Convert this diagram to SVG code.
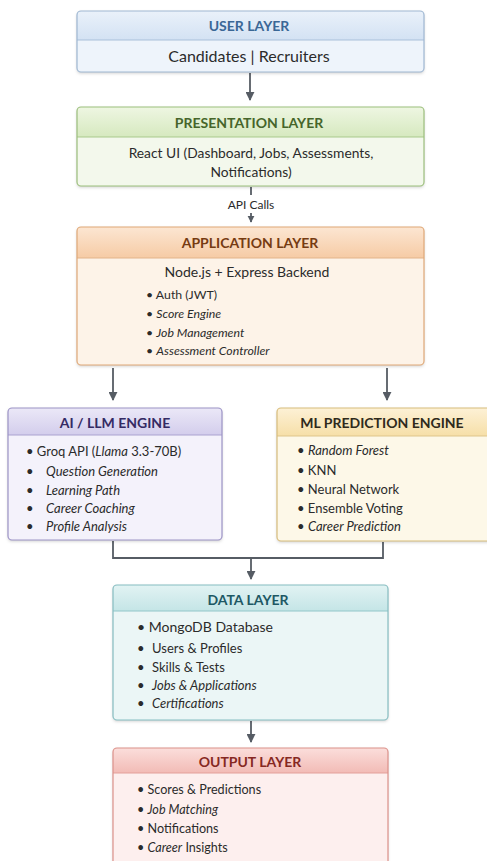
<svg xmlns="http://www.w3.org/2000/svg" width="487" height="861" viewBox="0 0 487 861">
  <style>
    text { font-family: Lato, "Open Sans", "Noto Sans", sans-serif; fill: #2b2b2b; }
    .title { font-weight: bold; font-size: 14px; text-anchor: middle; }
    .body { font-size: 13px; }
    .mid { text-anchor: middle; }
    .it { font-style: italic; }
    .conn { stroke: #565c64; stroke-width: 1.8; fill: none; }
  </style>
  <defs>
    <filter id="shadow" x="-5%" y="-5%" width="110%" height="115%">
      <feDropShadow dx="0" dy="1.5" stdDeviation="1.5" flood-color="#000" flood-opacity="0.18"/>
    </filter>
    <marker id="arrow" viewBox="0 0 10 10" refX="9" refY="5" markerWidth="5" markerHeight="5" orient="auto">
      <path d="M0,0 L10,5 L0,10 z" fill="#565c64"/>
    </marker>
    <marker id="arrowSmall" viewBox="0 0 10 10" refX="9" refY="5" markerWidth="4" markerHeight="4" orient="auto">
      <path d="M0,0 L10,5 L0,10 z" fill="#565c64"/>
    </marker>
    <linearGradient id="gUser" x1="0" y1="0" x2="0" y2="1"><stop offset="0" stop-color="#eaf1fa"/><stop offset="1" stop-color="#d3e2f3"/></linearGradient>
    <linearGradient id="gPres" x1="0" y1="0" x2="0" y2="1"><stop offset="0" stop-color="#eef6e2"/><stop offset="1" stop-color="#d6e9bf"/></linearGradient>
    <linearGradient id="gApp" x1="0" y1="0" x2="0" y2="1"><stop offset="0" stop-color="#fce6d2"/><stop offset="1" stop-color="#f6cba5"/></linearGradient>
    <linearGradient id="gAi" x1="0" y1="0" x2="0" y2="1"><stop offset="0" stop-color="#ebe8f7"/><stop offset="1" stop-color="#d3cdec"/></linearGradient>
    <linearGradient id="gMl" x1="0" y1="0" x2="0" y2="1"><stop offset="0" stop-color="#fdf1d6"/><stop offset="1" stop-color="#f6dfa8"/></linearGradient>
    <linearGradient id="gData" x1="0" y1="0" x2="0" y2="1"><stop offset="0" stop-color="#e2f3f3"/><stop offset="1" stop-color="#c4e5e6"/></linearGradient>
    <linearGradient id="gOut" x1="0" y1="0" x2="0" y2="1"><stop offset="0" stop-color="#fbdedb"/><stop offset="1" stop-color="#f2bbb6"/></linearGradient>
  </defs>

  <rect width="487" height="861" fill="#ffffff"/>

  <!-- connectors -->
  <g id="connectors">
    <line class="conn" x1="250" y1="73" x2="250" y2="100" marker-end="url(#arrow)"/>
    <line class="conn" x1="251" y1="187" x2="251" y2="195"/>
    <text class="mid" x="251" y="209" font-size="12">API Calls</text>
    <line class="conn" x1="251" y1="213" x2="251" y2="222" marker-end="url(#arrowSmall)"/>
    <line class="conn" x1="113" y1="368" x2="113" y2="400" marker-end="url(#arrow)"/>
    <line class="conn" x1="387" y1="368" x2="387" y2="400" marker-end="url(#arrow)"/>
    <path class="conn" d="M113,541 V558 H383 V542"/>
    <line class="conn" x1="251" y1="558" x2="251" y2="579" marker-end="url(#arrow)"/>
    <line class="conn" x1="251" y1="721" x2="251" y2="742" marker-end="url(#arrow)"/>
  </g>

  <!-- user layer -->
  <g id="user-layer">
    <rect x="77" y="11" width="347" height="61" rx="4" fill="#eef4fb" filter="url(#shadow)"/>
    <path d="M77,40 V15 a4,4 0 0 1 4,-4 H420 a4,4 0 0 1 4,4 V40 z" fill="url(#gUser)"/>
    <line x1="77" y1="40" x2="424" y2="40" stroke="#a9c0da" stroke-width="1"/>
    <rect x="77" y="11" width="347" height="61" rx="4" fill="none" stroke="#9fb7d2" stroke-width="1.2"/>
    <text class="title" x="249" y="31" style="fill:#3a6796">USER LAYER</text>
    <text class="mid" x="249" y="62" font-size="16">Candidates | Recruiters</text>
  </g>

  <!-- presentation layer -->
  <g id="presentation-layer">
    <rect x="77" y="107" width="347" height="79" rx="4" fill="#f3f8ec" filter="url(#shadow)"/>
    <path d="M77,137 V111 a4,4 0 0 1 4,-4 H420 a4,4 0 0 1 4,4 V137 z" fill="url(#gPres)"/>
    <line x1="77" y1="137" x2="424" y2="137" stroke="#a9c98c" stroke-width="1"/>
    <rect x="77" y="107" width="347" height="79" rx="4" fill="none" stroke="#9cbf7c" stroke-width="1.2"/>
    <text class="title" x="249" y="128" style="fill:#46652a">PRESENTATION LAYER</text>
    <text class="mid" x="251" y="158" font-size="13.8">React UI (Dashboard, Jobs, Assessments,</text>
    <text class="mid" x="251" y="177" font-size="13.8">Notifications)</text>
  </g>

  <!-- application layer -->
  <g id="application-layer">
    <rect x="77" y="227" width="347" height="138" rx="4" fill="#fdf3e8" filter="url(#shadow)"/>
    <path d="M77,258 V231 a4,4 0 0 1 4,-4 H420 a4,4 0 0 1 4,4 V258 z" fill="url(#gApp)"/>
    <line x1="77" y1="258" x2="424" y2="258" stroke="#e3b48a" stroke-width="1"/>
    <rect x="77" y="227" width="347" height="138" rx="4" fill="none" stroke="#dfa877" stroke-width="1.2"/>
    <text class="title" x="250" y="248" style="fill:#763b12">APPLICATION LAYER</text>
    <text class="mid" x="247" y="277" font-size="14">Node.js + Express Backend</text>
    <text x="146" y="299" font-size="12.3">• Auth (JWT)</text>
    <text x="146" y="318" font-size="12.3">• <tspan class="it">Score Engine</tspan></text>
    <text x="146" y="337" font-size="12.3">• <tspan class="it">Job Management</tspan></text>
    <text x="146" y="355" font-size="12.3">• <tspan class="it">Assessment Controller</tspan></text>
  </g>

  <!-- AI / LLM engine -->
  <g id="ai-llm-engine">
    <rect x="8" y="408" width="214" height="132" rx="4" fill="#f4f2fb" filter="url(#shadow)"/>
    <path d="M8,435 V412 a4,4 0 0 1 4,-4 H218 a4,4 0 0 1 4,4 V435 z" fill="url(#gAi)"/>
    <line x1="8" y1="435" x2="222" y2="435" stroke="#aaa2d0" stroke-width="1"/>
    <rect x="8" y="408" width="214" height="132" rx="4" fill="none" stroke="#9c93c6" stroke-width="1.2"/>
    <text class="title" x="115" y="428" style="fill:#342a64">AI / LLM ENGINE</text>
    <text class="body" x="26" y="456">• Groq API (<tspan class="it">Llama</tspan> 3.3-70B)</text>
    <text class="body" x="26" y="476">•<tspan class="it" x="46">Question Generation</tspan></text>
    <text class="body" x="26" y="495">•<tspan class="it" x="46">Learning Path</tspan></text>
    <text class="body" x="26" y="513">•<tspan class="it" x="46">Career Coaching</tspan></text>
    <text class="body" x="26" y="531">•<tspan class="it" x="46">Profile Analysis</tspan></text>
  </g>

  <!-- ML prediction engine -->
  <g id="ml-prediction-engine">
    <rect x="277" y="408" width="216" height="133" rx="4" fill="#fdf8e8" filter="url(#shadow)"/>
    <path d="M277,436 V412 a4,4 0 0 1 4,-4 H489 a4,4 0 0 1 4,4 V436 z" fill="url(#gMl)"/>
    <line x1="277" y1="436" x2="493" y2="436" stroke="#dfc58a" stroke-width="1"/>
    <rect x="277" y="408" width="216" height="133" rx="4" fill="none" stroke="#d8bd7c" stroke-width="1.2"/>
    <text class="title" x="382" y="428" style="fill:#2f2a1c">ML PREDICTION ENGINE</text>
    <text class="body" x="297" y="455">• <tspan class="it">Random Forest</tspan></text>
    <text class="body" x="297" y="475">• KNN</text>
    <text class="body" x="297" y="494">• Neural Network</text>
    <text class="body" x="297" y="513">• Ensemble Voting</text>
    <text class="body" x="297" y="531">• <tspan class="it">Career Prediction</tspan></text>
  </g>

  <!-- data layer -->
  <g id="data-layer">
    <rect x="113" y="585" width="275" height="135" rx="4" fill="#ebf6f6" filter="url(#shadow)"/>
    <path d="M113,611 V589 a4,4 0 0 1 4,-4 H384 a4,4 0 0 1 4,4 V611 z" fill="url(#gData)"/>
    <line x1="113" y1="611" x2="388" y2="611" stroke="#92c6c9" stroke-width="1"/>
    <rect x="113" y="585" width="275" height="135" rx="4" fill="none" stroke="#86bdc1" stroke-width="1.2"/>
    <text class="title" x="248" y="605" style="fill:#1d5864">DATA LAYER</text>
    <text x="137" y="632" font-size="14">• MongoDB Database</text>
    <text class="body" x="137" y="653">•<tspan x="152">Users &amp; Profiles</tspan></text>
    <text class="body" x="137" y="672">•<tspan x="152">Skills &amp; Tests</tspan></text>
    <text class="body" x="137" y="690">•<tspan class="it" x="152">Jobs &amp; Applications</tspan></text>
    <text class="body" x="137" y="708">•<tspan class="it" x="152">Certifications</tspan></text>
  </g>

  <!-- output layer -->
  <g id="output-layer">
    <rect x="113" y="748" width="275" height="120" rx="4" fill="#fdefee" filter="url(#shadow)"/>
    <path d="M113,773 V752 a4,4 0 0 1 4,-4 H384 a4,4 0 0 1 4,4 V773 z" fill="url(#gOut)"/>
    <line x1="113" y1="773" x2="388" y2="773" stroke="#e3a09a" stroke-width="1"/>
    <rect x="113" y="748" width="275" height="120" rx="4" fill="none" stroke="#dc918a" stroke-width="1.2"/>
    <text class="title" x="250" y="767" style="fill:#862822">OUTPUT LAYER</text>
    <text x="137" y="794" font-size="12.6">• Scores &amp; Predictions</text>
    <text x="137" y="814" font-size="12.6">• <tspan class="it">Job Matching</tspan></text>
    <text x="137" y="833" font-size="12.6">• Notifications</text>
    <text x="137" y="852" font-size="12.6">• <tspan class="it">Career</tspan> Insights</text>
  </g>
</svg>
